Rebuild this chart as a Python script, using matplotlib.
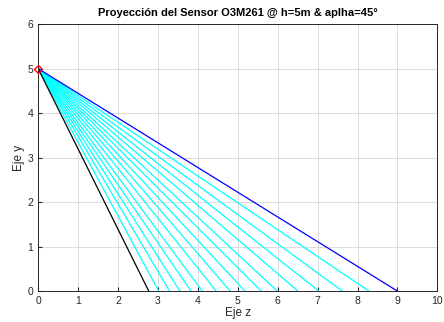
import matplotlib
matplotlib.use("Agg")
import matplotlib.pyplot as plt

# altura del sensor y puntos de corte con el suelo
h = 5
z_min = 2.77
z_max = 9.0
z_rayos = [3.02, 3.29, 3.55, 3.83, 4.11, 4.46, 4.81, 5.18, 5.59, 5.99,
           6.51, 7.03, 7.62, 8.29]

plt.rcParams['font.family'] = ['Liberation Sans', 'DejaVu Sans']

fig = plt.figure(figsize=(4.44, 3.22), dpi=100)
ax = fig.add_axes([0.086, 0.096, 0.899, 0.829])

for z in z_rayos:
    ax.plot([0, z], [h, 0], color='cyan', linewidth=0.9)
ax.plot([0, z_min], [h, 0], color='black', linewidth=0.9)
ax.plot([0, z_max], [h, 0], color='blue', linewidth=0.9)
ax.plot([0], [h], marker='D', markersize=4, markerfacecolor='none',
        markeredgecolor='red', markeredgewidth=1.0, zorder=5, clip_on=False)

ax.set_xlim(0, 10)
ax.set_ylim(0, 6)
ax.set_xticks(range(0, 11))
ax.set_yticks(range(0, 7))
ax.grid(True, color='#dcdcdc', linewidth=0.7)
ax.set_axisbelow(True)
ax.tick_params(direction='in', length=3, labelsize=7.5, colors='#262626')
for s in ax.spines.values():
    s.set_color('#262626')
    s.set_linewidth(0.7)

ax.set_xlabel('Eje z', fontsize=8.5, color='#262626', labelpad=1)
ax.set_ylabel('Eje y', fontsize=8.5, color='#262626', labelpad=2)
ax.set_title('Proyección del Sensor O3M261 @ h=5m & aplha=45°',
             fontsize=8, fontweight='bold', pad=6)

fig.savefig('out.png', dpi=100)
